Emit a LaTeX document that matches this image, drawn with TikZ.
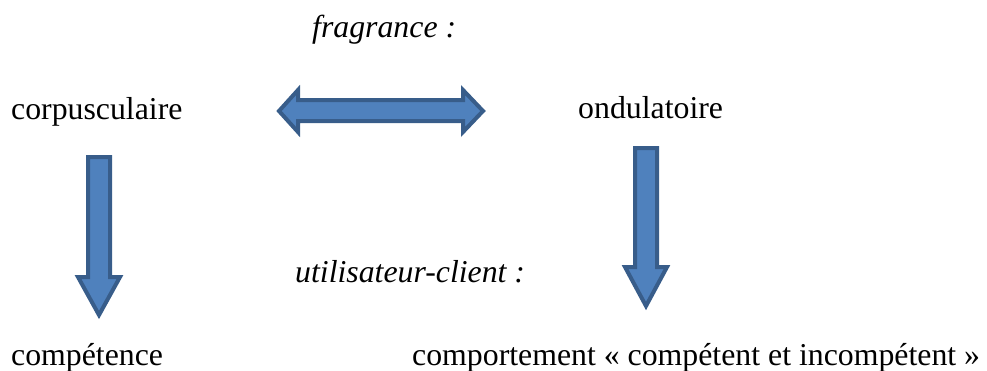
\documentclass[tikz,border=0pt]{standalone}
\usepackage{fontspec}
\setmainfont{Liberation Serif}
\begin{document}
\begin{tikzpicture}[x=1pt,y=-1pt,
  lbl/.style={anchor=base west,inner sep=0pt,font=\fontsize{31.8}{37}\selectfont},
  ilbl/.style={lbl,font=\fontsize{31.8}{37}\selectfont\itshape},
  blockarrow/.style={fill={rgb,255:red,79;green,129;blue,189},draw={rgb,255:red,56;green,93;blue,138},line width=4pt,line join=miter}]
\useasboundingbox (0,0) rectangle (987,370);
\node[ilbl] (frag) at (312,37) {fragrance :};
\node[lbl] (corp) at (11,119) {corpusculaire};
\node[lbl] (ond) at (578,118) {ondulatoire};
\node[ilbl] (util) at (295,282) {utilisateur-client :};
\node[lbl] (comp) at (11,365) {compétence};
\node[lbl] (comport) at (412,365) {comportement « compétent et incompétent »};
% double arrow
\draw[blockarrow] (279,111) -- (298,90) -- (298,100) -- (463,100) -- (463,90) -- (483,111)
  -- (463,132) -- (463,121) -- (298,121) -- (298,132) -- cycle;
% left down arrow
\draw[blockarrow] (88,157) -- (110,157) -- (110,277) -- (120,277) -- (99,315) -- (78,277) -- (88,277) -- cycle;
% right down arrow
\draw[blockarrow] (635,148) -- (657,148) -- (657,267) -- (667,267) -- (646,306) -- (625,267) -- (635,267) -- cycle;
\end{tikzpicture}
\end{document}
